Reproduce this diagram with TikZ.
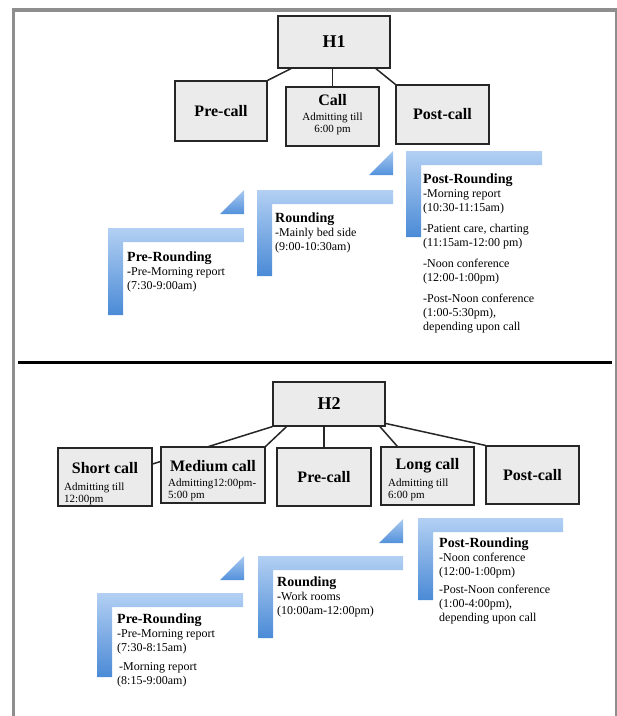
\documentclass[tikz,border=0pt]{standalone}
\usepackage{fontspec}
\setmainfont{Liberation Serif}
\usetikzlibrary{calc,backgrounds}
\definecolor{boxGray}{HTML}{EBEBEB}
\definecolor{frameGray}{HTML}{8E8E8E}
\definecolor{stepTop}{HTML}{B3D0F3}
\definecolor{stepBot}{HTML}{4A8AD6}
\definecolor{triTop}{HTML}{A9C9F1}
\definecolor{triBot}{HTML}{5391DA}
\newcommand{\stephead}[1]{{\fontsize{14}{14}\selectfont\bfseries #1}}

\begin{document}
\begin{tikzpicture}[x=1pt,y=-1pt,
    callbox/.style={draw=black!85,line width=1.2pt,fill=boxGray,minimum width=93pt,minimum height=58pt,inner sep=0pt,font=\fontsize{16}{18}\selectfont\bfseries},
    headbox/.style={callbox,minimum width=112pt,font=\fontsize{18}{20}\selectfont\bfseries},
    btitle/.style={font=\fontsize{16}{18}\selectfont\bfseries,inner sep=0pt},
    bsmall/.style={font=\fontsize{11}{11.5}\selectfont,align=left,inner sep=0pt},
    link/.style={line width=1.5pt,black!85},
    stepfill/.style={top color=stepTop,bottom color=stepBot},
    trifill/.style={top color=triTop,bottom color=triBot},
    steptext/.style={anchor=north west,inner sep=0pt,align=left,font=\fontsize{12}{14}\selectfont}]
  \useasboundingbox (0,0) rectangle (617,716);
  \draw[frameGray,line width=3.5pt] (13.5,716) -- (13.5,10) -- (617,10);
  \draw[frameGray,line width=2pt] (616,10) -- (616,716);
  \draw[line width=2.6pt] (18,362.5) -- (612,362.5);

  % H1 tree
  \node[headbox,minimum height=52pt] (hone) at (334,42) {H1};
  \node[callbox,minimum width=92pt,minimum height=60pt] (precA) at (221,111) {Pre-call};
  \node[callbox,minimum height=59pt] (callA) at (332.5,116.5) {};
  \node[btitle] (callAt) at (332.5,100) {Call};
  \node[bsmall,align=center] (callAn) at (332.5,124) {Admitting till\\6:00 pm};
  \node[callbox,minimum height=59pt] (postA) at (442.5,114.5) {Post-call};

  % H2 tree
  \node[headbox,minimum height=44pt] (htwo) at (329,404) {H2};
  \node[callbox,minimum width=94pt] (shortc) at (105,477) {};
  \node[btitle] (shortct) at (105,468) {Short call};
  \node[bsmall,anchor=north west] (shortcn) at (64,483) {Admitting till\\12:00pm};
  \node[callbox,minimum width=104pt,minimum height=56pt] (medc) at (213,475) {};
  \node[btitle] (medct) at (213,466) {Medium call};
  \node[bsmall,anchor=north west] (medcn) at (168,479) {Admitting12:00pm-\\5:00 pm};
  \node[callbox,minimum width=94pt] (precB) at (324,477) {Pre-call};
  \node[callbox] (longc) at (427.5,476) {};
  \node[btitle] (longct) at (427.5,466) {Long call};
  \node[bsmall,anchor=north west] (longcn) at (388,479) {Admitting till\\6:00 pm};
  \node[callbox] (postB) at (532.5,475) {Post-call};

  \begin{scope}[on background layer]
    \draw[link] ($(hone.south west)!.12!(hone.south east)$) -- (precA.north east);
    \draw[link] (hone.south -| callA.north) -- (callA.north);
    \draw[link] ($(hone.south west)!.87!(hone.south east)$) -- (postA.north west);
    \draw[link] (htwo.south west) -- ($(shortc.north east)!.28!(shortc.south east)$);
    \draw[link] ($(htwo.south west)!.125!(htwo.south east)$) -- (medc.north east);
    \draw[link] (htwo.south -| precB.north) -- (precB.north);
    \draw[link] ($(htwo.south west)!.95!(htwo.south east)$) -- ($(longc.north west)!.18!(longc.north east)$);
    \draw[link] ($(htwo.south east)!.07!(htwo.north east)$) -- (postB.north west);
  \end{scope}

  % steps
  \foreach \sx/\sy/\sw/\sh in {108/228/136/87, 257/190/136/86, 406/151/136/86, 97/593/146/84, 258/556/145/82, 418/518/145/82}
    \shade[stepfill] (\sx,\sy) -- ++(\sw,0) -- ++(0,14) -- ++({15-\sw},0) -- ++(0,{\sh-14}) -- ++(-15,0) -- cycle;
  \foreach \tx/\ty in {244/214, 393/175, 244/580, 403/543}
    \shade[trifill] (\tx,\ty) -- ++(-24,0) -- ++(24,-24) -- cycle;

  \node[steptext] (preA) at (127,252) {\stephead{Pre-Rounding}\\\textbf{-}Pre-Morning report\\(7:30-9:00am)};
  \node[steptext] (roundA) at (275,213) {\stephead{Rounding}\\-Mainly bed side\\(9:00-10:30am)};
  \node[steptext] (postRA) at (423,174) {\stephead{Post-Rounding}\\-Morning report\\(10:30-11:15am)\\[7pt]-Patient care, charting\\(11:15am-12:00 pm)\\[7pt]-Noon conference\\(12:00-1:00pm)\\[7pt]-Post-Noon conference\\(1:00-5:30pm),\\depending upon call};

  \node[steptext] (preB) at (117,614) {\stephead{Pre-Rounding}\\-Pre-Morning report\\(7:30-8:15am)\\[5pt]\hspace{2pt}-Morning report\\(8:15-9:00am)};
  \node[steptext] (roundB) at (277,577) {\stephead{Rounding}\\\textbf{-}Work rooms\\(10:00am-12:00pm)};
  \node[steptext] (postRB) at (439,538) {\stephead{Post-Rounding}\\-Noon conference\\(12:00-1:00pm)\\[4pt]-Post-Noon conference\\(1:00-4:00pm),\\depending upon call};
\end{tikzpicture}
\end{document}
